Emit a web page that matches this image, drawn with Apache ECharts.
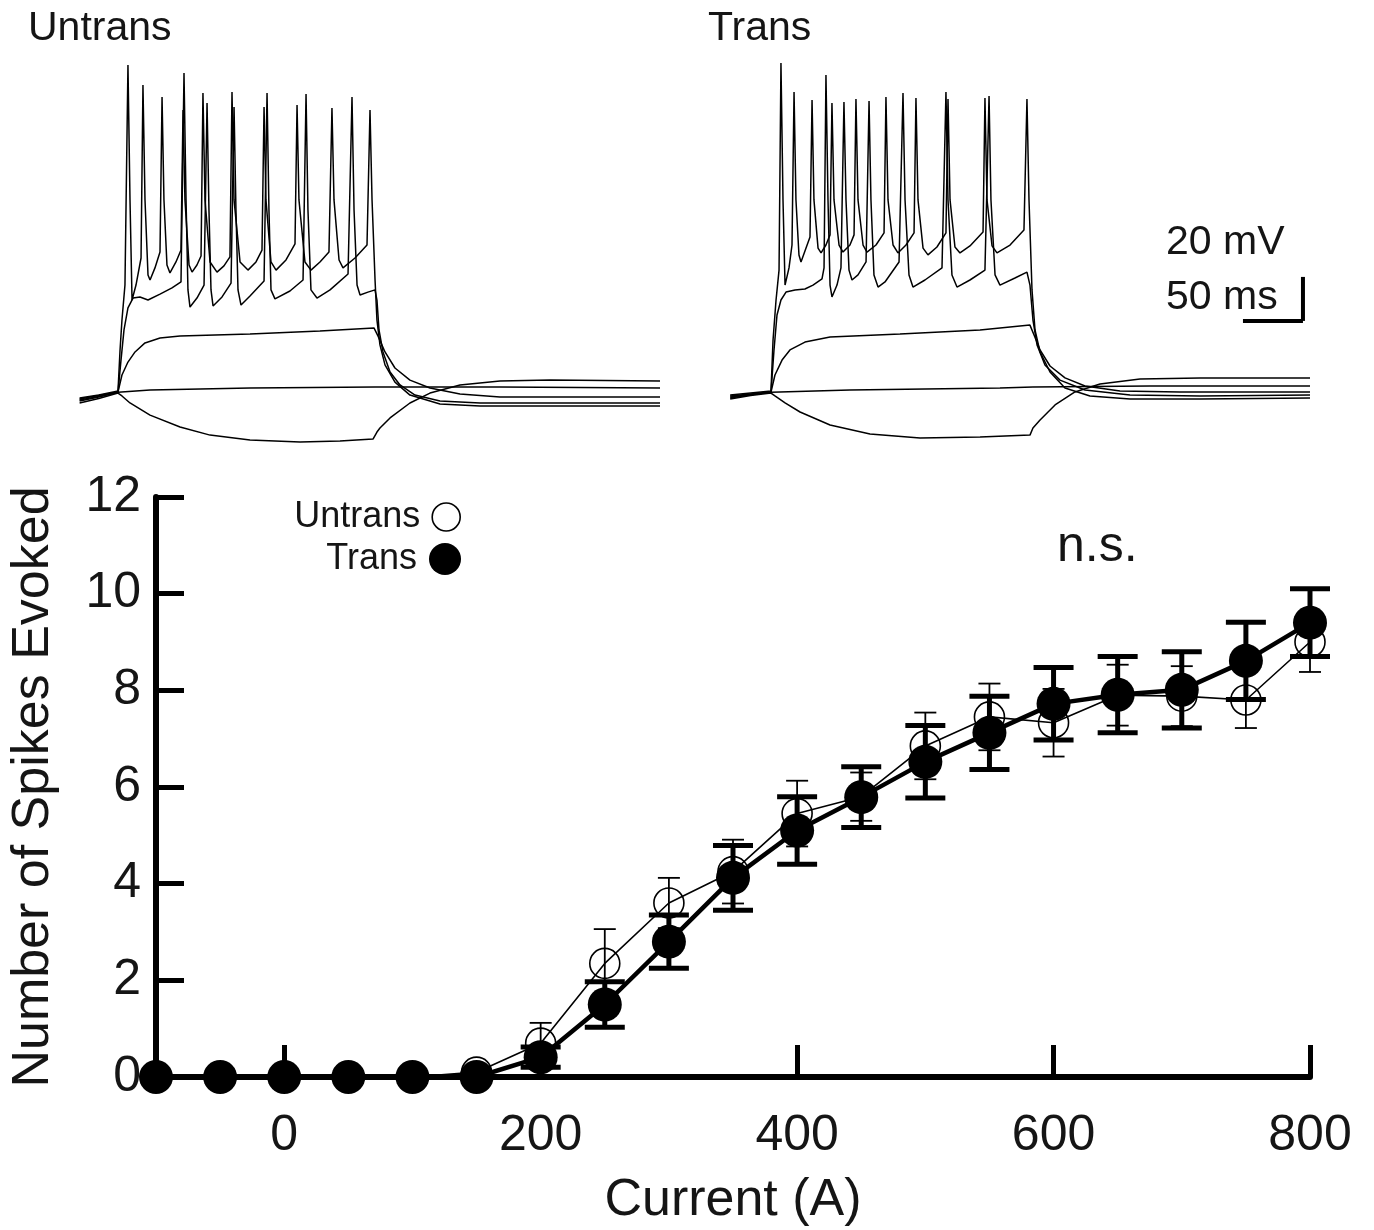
<!DOCTYPE html>
<html lang="en">
<head>
<meta charset="UTF-8">
<title>Number of Spikes Evoked - Untrans / Trans</title>
<script src="https://cdn.jsdelivr.net/npm/echarts@6/dist/echarts.min.js"></script>
<style>
  html, body { margin: 0; padding: 0; background: #fff; }
  #chart { width: 1374px; height: 1230px; }
</style>
</head>
<body>
<div id="chart"></div>
<script>
// F-I curve: injected current (A) vs mean spikes evoked, with SEM
const currents = [-100, -50, 0, 50, 100, 150, 200, 250, 300, 350, 400, 450, 500, 550, 600, 650, 700, 750, 800];
const untransMean = [0, 0, 0, 0, 0, 0.1, 0.7, 2.35, 3.6, 4.25, 5.45, 5.8, 6.85, 7.45, 7.33, 7.9, 7.88, 7.8, 9.0];
const untransSem  = [0, 0, 0, 0, 0, 0, 0.42, 0.71, 0.52, 0.66, 0.68, 0.5, 0.69, 0.69, 0.7, 0.63, 0.62, 0.58, 0.62];
const transMean   = [0, 0, 0, 0, 0, 0, 0.41, 1.5, 2.8, 4.12, 5.1, 5.79, 6.52, 7.12, 7.72, 7.91, 8.01, 8.61, 9.4];
const transSem    = [0, 0, 0, 0, 0, 0, 0.21, 0.47, 0.55, 0.67, 0.7, 0.63, 0.75, 0.76, 0.75, 0.79, 0.79, 0.8, 0.7];
const xTicks = [0, 200, 400, 600, 800];

// example traces: [time from step onset (ms), membrane potential (mV)]
const untransHyper = [[-32,-75.9],[-16,-73.9],[0,-71.4],[3.3,-72.7],[10,-75.9],[26.7,-81.4],[51.7,-86.8],[76.7,-90.5],[110,-92.7],[151.7,-93.6],[185,-93.2],[212.5,-92.3],[215.8,-89.1],[218.3,-87.3],[226.7,-82.7],[243.3,-75.9],[260,-71.4],[285,-67.7],[318.3,-65.9],[360,-65.5],[451.7,-65.9]];
const untransFlat = [[-32,-75],[-16,-73.2],[0,-71],[26.7,-70],[110,-69.1],[214.2,-68.6],[318.3,-68.6],[451.7,-69.1]];
const untransSub = [[-32,-74.5],[-16,-72.9],[0,-70.9],[3.3,-63.2],[8.3,-57.3],[14.2,-52.7],[22.5,-48.6],[35,-46.4],[51.7,-45.5],[110,-44.5],[168.3,-43.2],[213.3,-41.8],[216.7,-45.5],[222.5,-52.7],[230.8,-60],[243.3,-65.5],[260,-69.1],[285,-71.8],[318.3,-73.2],[451.7,-73.2]];
const untransLow = [[-32,-74.1],[-16,-72.5],[0,-70.9],[2.5,-56.4],[5,-42.7],[8.3,-32.7],[12.5,-28.2],[18.3,-27.7],[25,-29.1],[35,-26.4],[45,-23.6],[52.5,-20.9],[55,74.1],[56.7,16.4],[58.3,-24.5],[60,-32.3],[65.8,-28.2],[71.7,-22.3],[74.2,60.5],[75.8,11.8],[77.5,-24.5],[79.2,-31.8],[86.7,-27.7],[94.2,-21.4],[96.7,58.6],[98.3,11.8],[100,-24.5],[102.5,-31.4],[110,-27.3],[121.7,-20.5],[124.2,65],[125.8,11.8],[127.5,-24.5],[130.8,-28.6],[143.3,-25],[154.2,-20],[156.7,64.5],[158.3,11.8],[160.8,-24.5],[165.8,-28.2],[176.7,-24.5],[191.7,-17.3],[195,63.2],[196.7,11.8],[199.2,-22.3],[201.7,-26.8],[208.3,-25.5],[214.2,-24.5],[215.8,-29.1],[217.5,-42.7],[220.8,-52.7],[226.7,-61.8],[235,-67.7],[247.5,-72.3],[268.3,-75],[301.7,-75.9],[451.7,-75.9]];
const untransHigh = [[-32,-73.6],[-16,-72.3],[0,-70.5],[1.7,-51.8],[3.3,-38.2],[5.8,-22.3],[8.3,77.7],[10,16.4],[11.7,-29.1],[15,-22.3],[19.2,-10],[20.8,68.6],[22.5,16.4],[25,-17.7],[26.7,-20],[30.8,-14.5],[35,-7.3],[36.7,63.2],[38.3,16.4],[40.8,-13.2],[43.3,-16.8],[48.3,-11.8],[52.5,-6.4],[54.2,57.3],[55.8,16.4],[59.2,-13.2],[61.7,-16.4],[65.8,-13.2],[69.2,-9.1],[70.8,65],[72.5,16.4],[76.7,-11.8],[82.5,-16.4],[88.3,-13.6],[93.3,-9.5],[95,65.5],[96.7,16.4],[101.7,-11.8],[108.3,-15.5],[115,-11.8],[120,-6.4],[121.7,58.6],[123.3,16.4],[127.5,-11.8],[131.7,-15.5],[140,-10.9],[147.5,-3.6],[149.2,59.5],[150.8,16.4],[155.8,-11.8],[160.8,-15.5],[168.3,-11.8],[175.8,-7.3],[178.3,58.2],[180,16.4],[184.2,-10.9],[187.5,-14.5],[197.5,-10],[207.5,-4.1],[210,57.3],[211.7,16.4],[214.2,-20],[215.8,-38.2],[218.3,-49.5],[222.5,-58.6],[230.8,-66.4],[243.3,-72.3],[268.3,-76.4],[301.7,-77.3],[451.7,-77.3]];

const transHyper = [[-34,-74.1],[-17,-72.5],[0,-71.4],[3.3,-72.7],[11.7,-75.9],[24.2,-80],[49.2,-85.9],[82.5,-90],[124.2,-91.8],[174.2,-91.4],[215.8,-90.5],[218.3,-87.3],[224.2,-83.6],[236.7,-76.8],[253.3,-70.9],[274.2,-67.3],[307.5,-65],[357.5,-64.5],[449.2,-64.5]];
const transFlat = [[-34,-73.6],[-17,-72.2],[0,-71],[65.8,-70],[190.8,-69.1],[218.3,-68.6],[315.8,-68.2],[449.2,-68.2]];
const transSub = [[-34,-73.2],[-17,-72],[0,-70.9],[3.3,-63.2],[9.2,-56.4],[15.8,-51.8],[28.3,-48.2],[49.2,-45.9],[107.5,-44.5],[174.2,-42.7],[215.8,-40.5],[219.2,-45],[224.2,-51.8],[232.5,-59.1],[245,-64.5],[261.7,-68.2],[290.8,-70.5],[340.8,-70.9],[449.2,-70.9]];
const transLow = [[-34,-72.7],[-17,-71.8],[0,-70.9],[2.5,-51.8],[5,-35.9],[8.3,-29.1],[12.5,-25.5],[20,-24.5],[28.3,-24.1],[35,-22.3],[42.5,-19.5],[44.2,-14.5],[45.8,73.2],[47.5,16.4],[49.2,-22.3],[50.8,-27.7],[55,-22.3],[58.3,-14.5],[60.8,60.9],[62.5,16.4],[65,-15.5],[67.5,-20],[72.5,-17.7],[79.2,-11.8],[81.7,61.4],[83.3,16.4],[85.8,-17.7],[89.2,-23.2],[95,-20.9],[106.7,-11.8],[110,65],[111.7,16.4],[115,-17.7],[118.3,-23.2],[128.3,-20],[142.5,-14.5],[145.8,65.5],[147.5,16.4],[150.8,-17.7],[155,-23.2],[165.8,-20],[178.3,-15.5],[181.7,63.6],[183.3,16.4],[186.7,-17.7],[190.8,-22.3],[203.3,-19.1],[213.3,-16.4],[215.8,-22.3],[218.3,-38.2],[221.7,-49.5],[228.3,-58.6],[240.8,-65.5],[261.7,-70],[299.2,-72.3],[357.5,-72.7],[449.2,-72.3]];
const transHigh = [[-34,-72.3],[-17,-71.4],[0,-70.5],[1.7,-47.3],[4.2,-29.1],[6.7,-15.5],[8.3,78.6],[10,16.4],[11.7,-22.3],[15,-14.5],[17.5,-4.1],[19.2,65.5],[20.8,16.4],[23.3,-8.6],[25,-11.8],[29.2,-5.5],[32.5,-0.5],[34.2,61.8],[35.8,16.4],[39.2,-5.5],[41.7,-7.7],[45.8,-4.1],[49.2,0.5],[50.8,60.5],[52.5,16.4],[56.7,-4.1],[60,-7.3],[65.8,-4.1],[69.2,0.5],[70.8,62.3],[72.5,16.4],[76.7,-4.1],[80,-7.3],[87.5,-4.1],[94.2,1.4],[95.8,63.2],[97.5,16.4],[101.7,-4.1],[105.8,-7.7],[112.5,-4.1],[119.2,1.4],[120.8,62.7],[122.5,16.4],[126.7,-5.5],[130.8,-8.6],[138.3,-5],[145.8,1.4],[147.5,62.3],[149.2,16.4],[153.3,-5],[157.5,-7.7],[165.8,-4.5],[176.7,1.8],[178.3,62.7],[180,16.4],[184.2,-4.5],[188.3,-7.7],[199.2,-4.1],[210.8,2.7],[213.3,62.3],[215,16.4],[217.5,-24.5],[220,-42.7],[224.2,-52.7],[232.5,-61.8],[245,-69.1],[265.8,-72.7],[299.2,-74.1],[357.5,-74.1],[449.2,-73.6]];

// scale bar: 20 mV / 50 ms
const scaleBarV = [[443.3, -38.6], [443.3, -18.6]];
const scaleBarH = [[393.3, -38.6], [443.3, -38.6]];

const FONT = 'Liberation Sans, Arial, Helvetica, sans-serif';
const INK = '#151515';

const chart = echarts.init(document.getElementById('chart'));

function errorBars(name, mean, sem, lw, capHalf, z) {
    return {
        type: 'custom',
        name: name,
        xAxisIndex: 0,
        yAxisIndex: 0,
        z: z,
        silent: true,
        clip: false,
        data: currents.map((c, i) => [c, mean[i] - sem[i], mean[i] + sem[i]]),
        encode: { x: 0, y: [1, 2] },
        renderItem: function (params, api) {
            const x = api.value(0), lo = api.value(1), hi = api.value(2);
            if (hi - lo <= 0) return null;
            const top = api.coord([x, hi]);
            const bot = api.coord([x, lo]);
            const st = { stroke: '#000', lineWidth: lw };
            return {
                type: 'group',
                children: [
                    { type: 'line', shape: { x1: top[0], y1: top[1], x2: bot[0], y2: bot[1] }, style: st },
                    { type: 'line', shape: { x1: top[0] - capHalf, y1: top[1], x2: top[0] + capHalf, y2: top[1] }, style: st },
                    { type: 'line', shape: { x1: bot[0] - capHalf, y1: bot[1], x2: bot[0] + capHalf, y2: bot[1] }, style: st }
                ]
            };
        }
    };
}

function trace(data, idx, width) {
    return {
        type: 'line',
        xAxisIndex: idx,
        yAxisIndex: idx,
        data: data,
        symbol: 'none',
        silent: true,
        clip: false,
        lineStyle: { color: '#000', width: width || 1.5 }
    };
}

function traceAxes(idx) {
    return {
        x: { type: 'value', gridIndex: idx, min: -35, max: 455, show: false },
        y: { type: 'value', gridIndex: idx, min: -100, max: 85, show: false }
    };
}
const ua = traceAxes(1), ta = traceAxes(2);

const option = {
    animation: false,
    backgroundColor: '#fff',
    textStyle: { fontFamily: FONT },
    title: [
        { text: 'Untrans', left: 23, top: 3, textStyle: { fontSize: 41, fontWeight: 'normal', color: INK, fontFamily: FONT } },
        { text: 'Trans', left: 703, top: 3, textStyle: { fontSize: 41, fontWeight: 'normal', color: INK, fontFamily: FONT } }
    ],
    legend: [
        {
            data: [{ name: 'Untrans', icon: 'circle', itemStyle: { color: 'rgba(0,0,0,0)', borderColor: '#000', borderWidth: 1.6 } }],
            right: 913, top: 499, align: 'right', padding: 0, selectedMode: false,
            itemWidth: 28, itemHeight: 28,
            textStyle: { fontSize: 36, color: INK, fontFamily: FONT, padding: [0, 7, 0, 0] }
        },
        {
            data: [{ name: 'Trans', icon: 'circle', itemStyle: { color: '#000' } }],
            right: 913, top: 541, align: 'right', padding: 0, selectedMode: false,
            itemWidth: 32, itemHeight: 32,
            textStyle: { fontSize: 36, color: INK, fontFamily: FONT, padding: [0, 7, 0, 0] }
        }
    ],
    grid: [
        { left: 155, top: 497, width: 1155, height: 580 },
        { left: 76, top: 49, width: 588, height: 407 },
        { left: 729, top: 49, width: 588, height: 407 }
    ],
    xAxis: [
        {
            type: 'value', gridIndex: 0, min: -100, max: 800,
            axisLine: { show: true, onZero: false, lineStyle: { color: '#000', width: 6 } },
            axisTick: { show: true, inside: true, length: 32, customValues: xTicks, lineStyle: { color: '#000', width: 5 } },
            axisLabel: { customValues: xTicks, fontSize: 50, margin: 34, color: INK, fontFamily: FONT },
            splitLine: { show: false },
            name: 'Current (A)', nameLocation: 'middle', nameGap: 98,
            nameTextStyle: { fontSize: 52, color: INK, fontFamily: FONT }
        },
        ua.x, ta.x
    ],
    yAxis: [
        {
            type: 'value', gridIndex: 0, min: 0, max: 12, interval: 2,
            axisLine: { show: true, onZero: false, lineStyle: { color: '#000', width: 6 } },
            axisTick: { show: true, inside: true, length: 28, lineStyle: { color: '#000', width: 5 } },
            axisLabel: { fontSize: 50, margin: 15, color: INK, fontFamily: FONT },
            splitLine: { show: false },
            name: 'Number of Spikes Evoked', nameLocation: 'middle', nameGap: 96,
            nameTextStyle: { fontSize: 52, color: INK, fontFamily: FONT }
        },
        ua.y, ta.y
    ],
    graphic: [
        { type: 'text', left: 1057, top: 522, style: { text: 'n.s.', fontSize: 50, fill: INK, fontFamily: FONT } },
        { type: 'text', left: 1166, top: 222, style: { text: '20 mV', fontSize: 41, fill: INK, fontFamily: FONT } },
        { type: 'text', left: 1166, top: 277, style: { text: '50 ms', fontSize: 41, fill: INK, fontFamily: FONT } }
    ],
    series: [
        errorBars('untransErr', untransMean, untransSem, 1.8, 11, 2),
        {
            name: 'Untrans', type: 'line', xAxisIndex: 0, yAxisIndex: 0, z: 3, clip: false,
            data: currents.map((c, i) => [c, untransMean[i]]),
            symbol: 'circle', symbolSize: 30,
            itemStyle: { color: 'rgba(0,0,0,0)', borderColor: '#000', borderWidth: 1.6 },
            lineStyle: { color: '#000', width: 1.6 }
        },
        errorBars('transErr', transMean, transSem, 5, 20, 4),
        {
            name: 'Trans', type: 'line', xAxisIndex: 0, yAxisIndex: 0, z: 5, clip: false,
            data: currents.map((c, i) => [c, transMean[i]]),
            symbol: 'circle', symbolSize: 34,
            itemStyle: { color: '#000' },
            lineStyle: { color: '#000', width: 4.5 }
        },
        trace(untransHyper, 1), trace(untransFlat, 1), trace(untransSub, 1),
        trace(untransLow, 1), trace(untransHigh, 1),
        trace(transHyper, 2), trace(transFlat, 2), trace(transSub, 2),
        trace(transLow, 2), trace(transHigh, 2),
        trace(scaleBarV, 2, 4), trace(scaleBarH, 2, 4)
    ]
};

chart.setOption(option);
</script>
</body>
</html>
